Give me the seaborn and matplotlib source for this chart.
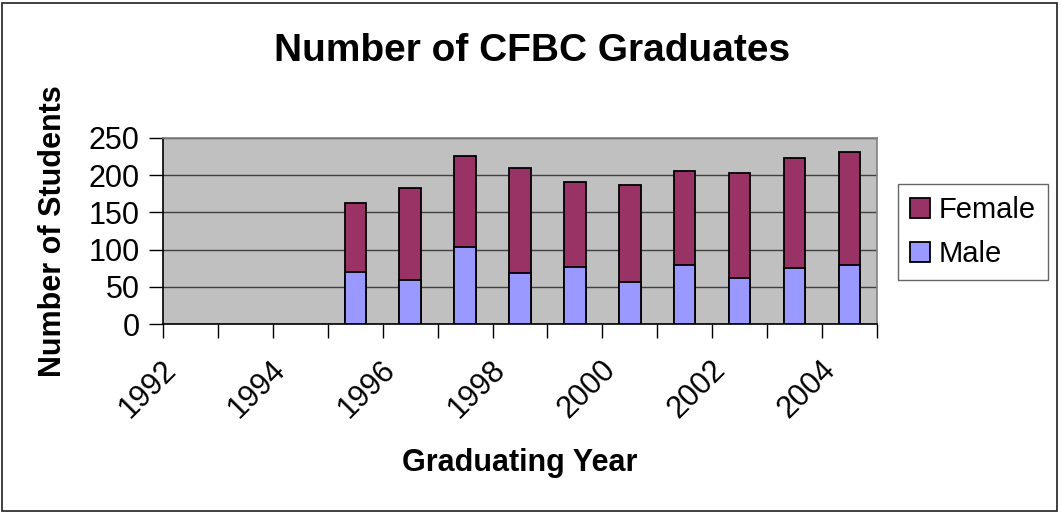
import matplotlib
matplotlib.use("Agg")
import matplotlib.pyplot as plt
import matplotlib.transforms as mtransforms
from matplotlib.patches import Patch, Rectangle
import numpy as np
import pandas as pd
import seaborn as sns

# Graduating years shown on the category axis
years = [str(y) for y in range(1992, 2005)]
# Years with graduates on record
data_years = [str(y) for y in range(1995, 2005)]
male = [70, 59, 104, 69, 77, 57, 80, 62, 75, 80]
female = [93, 123, 122, 141, 113, 130, 125, 141, 148, 151]
tick_years = ["1992", "1994", "1996", "1998", "2000", "2002", "2004"]

FEMALE_COLOR = "#993366"
MALE_COLOR = "#9999FF"
PLOT_BG = "#C0C0C0"

sns.set_theme(style="white")
plt.rcParams["font.family"] = ["Liberation Sans", "DejaVu Sans"]
plt.rcParams.update({"text.color": "black", "axes.labelcolor": "black",
                     "xtick.color": "black", "ytick.color": "black"})

df = pd.DataFrame({"year": data_years, "male": male, "female": female})
df["total"] = df["male"] + df["female"]

W, H = 1061, 514
fig = plt.figure(figsize=(W / 100, H / 100), dpi=100)
fig.patch.set_facecolor("white")

ax_left, ax_right, ax_top, ax_bottom = 163, 877, 137.7, 324.3
ax = fig.add_axes([ax_left / W, 1 - ax_bottom / H,
                   (ax_right - ax_left) / W, (ax_bottom - ax_top) / H])
ax.set_facecolor(PLOT_BG)

# Stacked columns: full height in the female colour, male share on top of it
bar_kw = dict(order=years, width=0.39, edgecolor="black", linewidth=1.3,
              saturation=1, ax=ax, zorder=3)
sns.barplot(data=df, x="year", y="total", color=FEMALE_COLOR, **bar_kw)
sns.barplot(data=df, x="year", y="male", color=MALE_COLOR, **bar_kw)

ax.set_xlim(-0.5, len(years) - 0.5)
ax.set_ylim(0, 250)
ax.set_yticks(np.arange(0, 251, 50))
ax.yaxis.grid(True, color="#404040", linewidth=1.0, zorder=0)
ax.set_axisbelow(True)

for side in ("top", "right"):
    ax.spines[side].set_color("#808080")
    ax.spines[side].set_linewidth(1.2)
for side in ("left", "bottom"):
    ax.spines[side].set_color("black")
    ax.spines[side].set_linewidth(1.2)

# Tick marks between categories, labels on every other year
ax.set_xticks(np.arange(-0.5, len(years)), labels=[""] * (len(years) + 1))
ax.set_xticks([years.index(y) for y in tick_years], labels=tick_years, minor=True)
ax.tick_params(axis="x", which="major", direction="out", length=10, width=1,
               color="black", bottom=True)
ax.tick_params(axis="x", which="minor", length=0, pad=29.5, labelsize=22,
               labelcolor="black")
ax.tick_params(axis="y", direction="out", length=10, width=1, color="black",
               left=True, pad=7, labelsize=22, labelcolor="black")

offset = mtransforms.ScaledTranslation(-19 / 100, 0, fig.dpi_scale_trans)
for lab in ax.get_xticklabels(minor=True):
    lab.set_rotation(45)
    lab.set_ha("right")
    lab.set_va("center")
    lab.set_rotation_mode("anchor")
    lab.set_transform(lab.get_transform() + offset)

ax.set_xlabel("Graduating Year", fontsize=22, fontweight="bold")
ax.xaxis.label.set_va("center")
ax.xaxis.set_label_coords(0.5, -(462.5 - ax_bottom) / (ax_bottom - ax_top))
ax.set_ylabel("Number of Students", fontsize=22, fontweight="bold")
ax.yaxis.label.set_va("center")
ax.yaxis.set_label_coords((53 - ax_left) / (ax_right - ax_left), 0.5)

fig.text(532 / W, 1 - 61 / H, "Number of CFBC Graduates", fontsize=28,
         fontweight="bold", ha="center", va="baseline", color="black")

handles = [Patch(facecolor=FEMALE_COLOR, edgecolor="black", linewidth=1.3),
           Patch(facecolor=MALE_COLOR, edgecolor="black", linewidth=1.3)]
leg = fig.legend(handles, ["Female", "Male"], loc="center left",
                 bbox_to_anchor=(898 / W, 1 - 232 / H),
                 bbox_transform=fig.transFigure, fontsize=21,
                 handlelength=0.7, handleheight=0.7, handletextpad=0.3,
                 labelspacing=0.55, borderpad=0.4, borderaxespad=0,
                 frameon=True, fancybox=False)
leg.get_frame().set_edgecolor("#404040")
leg.get_frame().set_linewidth(1.0)
for t in leg.get_texts():
    t.set_color("black")

# Outer chart border
fig.add_artist(Rectangle((2 / W, 3 / H), (1057 - 2) / W, (511 - 3) / H,
                         transform=fig.transFigure, fill=False,
                         edgecolor="#202020", linewidth=1.2))

fig.savefig("out.png", dpi=100)
